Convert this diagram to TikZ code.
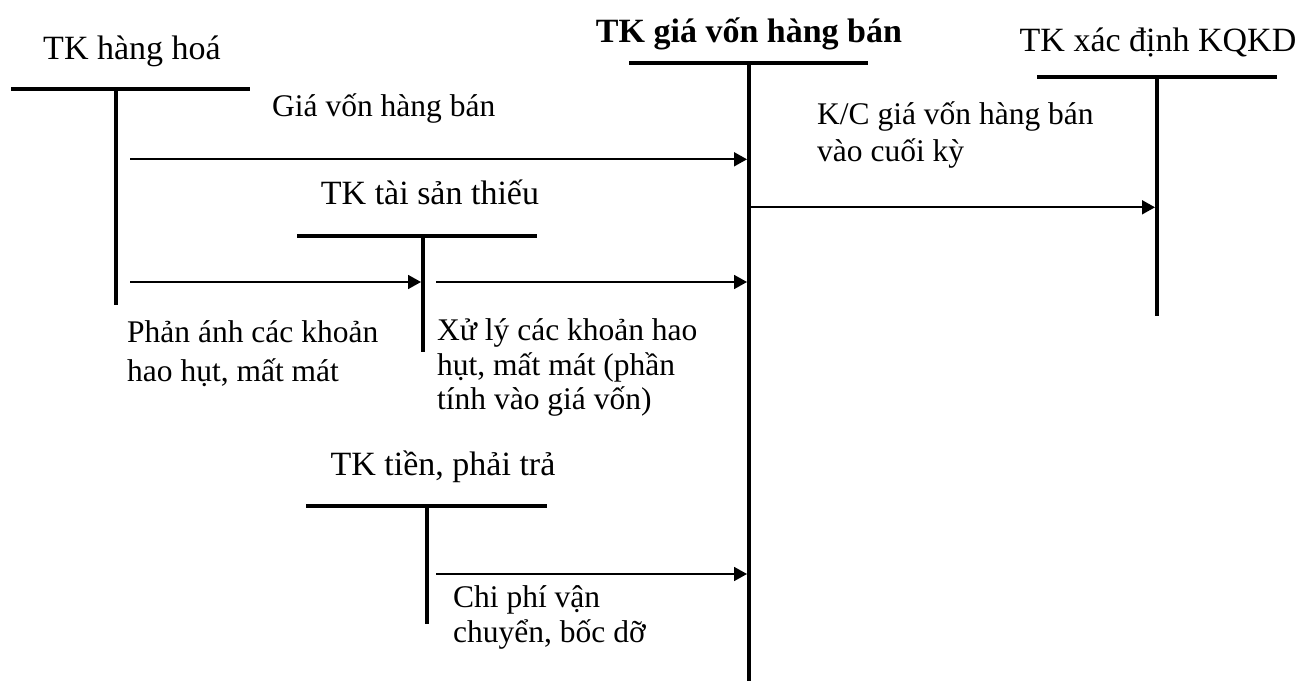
\documentclass[tikz,border=0pt]{standalone}
\usepackage{fontspec}
\setmainfont{Liberation Serif}
\usetikzlibrary{arrows.meta}

% stack of lines whose baseline is the first line's baseline
\newcommand{\linestack}[2]{\vtop{\baselineskip=#1\lineskiplimit=-\maxdimen #2}}

\begin{document}
\begin{tikzpicture}[x=1pt,y=-1pt,
  bar/.style={line width=4pt},
  post/.style={line width=1.8pt,shorten >=2pt,-{Triangle[length=13pt,width=14pt]}},
  acct/.style={font=\fontsize{34}{40}\selectfont,anchor=base,inner sep=0pt},
  lbl/.style={font=\fontsize{31.5}{37}\selectfont,anchor=base west,inner sep=0pt}]
\useasboundingbox (0,0) rectangle (1301,684);

% joints of the T accounts (top of each vertical rule)
\coordinate (hhJ) at (116,89);
\coordinate (gvJ) at (749,63);
\coordinate (kqJ) at (1157,77);
\coordinate (tsJ) at (423,236);
\coordinate (tpJ) at (427,506);

% account titles
\node[acct] (hh) at (132,60) {TK hàng hoá};
\node[acct,font=\bfseries\fontsize{34}{40}\selectfont] (gv) at (749,43) {TK giá vốn hàng bán};
\node[acct] (kq) at (1158,52) {TK xác định KQKD};
\node[acct] (ts) at (430,205) {TK tài sản thiếu};
\node[acct] (tp) at (443,475) {TK tiền, phải trả};

% T shapes
\draw[bar] (11,89) -- (250,89);   \draw[bar] (hhJ) -- (116,305);
\draw[bar] (629,63) -- (868,63);  \draw[bar] (gvJ) -- (749,681);
\draw[bar] (1037,77) -- (1277,77); \draw[bar] (kqJ) -- (1157,316);
\draw[bar] (297,236) -- (537,236); \draw[bar] (tsJ) -- (423,352);
\draw[bar] (306,506) -- (547,506); \draw[bar] (tpJ) -- (427,624);

% postings
\coordinate (p1) at (130,159.3);
\coordinate (p2) at (130,282);
\coordinate (p3) at (436,282);
\coordinate (p4) at (749,207.3);
\coordinate (p5) at (436,574);
\draw[post] (p1) -- (p1 -| gvJ);
\draw[post] (p2) -- (p2 -| tsJ);
\draw[post] (p3) -- (p3 -| gvJ);
\draw[post] (p4) -- (p4 -| kqJ);
\draw[post] (p5) -- (p5 -| gvJ);

% posting labels
\node[lbl] (l1) at (272,117) {Giá vốn hàng bán};
\node[lbl] (l4) at (817,125) {\linestack{37pt}{\hbox{K/C giá vốn hàng bán}\hbox{vào cuối kỳ}}};
\node[lbl] (l2) at (127,343) {\linestack{38.5pt}{\hbox{Phản ánh các khoản}\hbox{hao hụt, mất mát}}};
\node[lbl] (l3) at (437,341) {\linestack{34.5pt}{\hbox{Xử lý các khoản hao}\hbox{hụt, mất mát (phần}\hbox{tính vào giá vốn)}}};
\node[lbl] (l5) at (453,607) {\linestack{35pt}{\hbox{Chi phí vận}\hbox{chuyển, bốc dỡ}}};
\end{tikzpicture}
\end{document}
